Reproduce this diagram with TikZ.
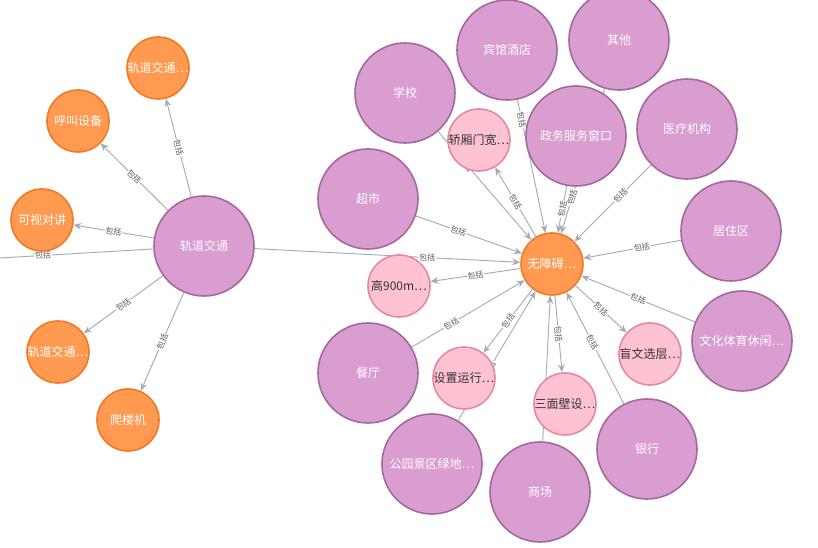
\documentclass[tikz,border=0pt]{standalone}
\usepackage{fontspec}
\setmainfont{Noto Sans CJK SC}
\usetikzlibrary{backgrounds,arrows.meta}
\definecolor{edgec}{HTML}{A5ABB6}
\definecolor{purf}{HTML}{D99DD0}
\definecolor{purd}{HTML}{A8679E}
\definecolor{orf}{HTML}{FF9A50}
\definecolor{ord}{HTML}{F07A26}
\definecolor{pkf}{HTML}{FFC2D2}
\definecolor{pkd}{HTML}{E6889E}
\tikzset{
 big/.style={circle,draw=purd,fill=purf,line width=1.2pt,minimum size=75pt,inner sep=0pt,text=white,font=\fontsize{9}{10}\selectfont},
 org/.style={circle,draw=ord,fill=orf,line width=1.2pt,minimum size=46.5pt,inner sep=0pt,text=white,font=\fontsize{9}{10}\selectfont},
 pnk/.style={circle,draw=pkd,fill=pkf,line width=1.2pt,minimum size=46.5pt,inner sep=0pt,text=black!80,font=\fontsize{9}{10}\selectfont},
 rel/.style={draw=edgec,line width=0.7pt,-{Stealth[length=6pt,width=5pt]}},
 lab/.style={sloped,fill=white,inner sep=0.5pt,text=black!65,font=\fontsize{6}{7}\selectfont}
}
\begin{document}
\begin{tikzpicture}[x=0.75pt,y=-0.75pt]
\useasboundingbox (0,0) rectangle (818,548);
% left cluster
\node[big] (gd) at (204,246) {轨道交通};
\node[org] (o1) at (158,68) {轨道交通…};
\node[org] (o2) at (78,121) {呼叫设备};
\node[org] (o3) at (42,220) {可视对讲};
\node[org] (o4) at (58,352) {轨道交通…};
\node[org] (o5) at (128,420) {爬楼机};
\coordinate (off) at (0,258);
% center
\node[org] (c) at (552,264) {无障碍…};
\node[big] (xx) at (405,93) {学校};
\node[big] (bg) at (507,50) {宾馆酒店};
\node[big] (qt) at (619,40) {其他};
\node[big] (zw) at (576,136) {政务服务窗口};
\node[big] (yl) at (687,129) {医疗机构};
\node[big] (jz) at (731,231) {居住区};
\node[big] (cs) at (368,199) {超市};
\node[big] (wh) at (742,341) {文化体育休闲…};
\node[big] (ct) at (368,373) {餐厅};
\node[big] (gy) at (432,464) {公园景区绿地…};
\node[big] (sc) at (540,492) {商场};
\node[big] (yh) at (647,449) {银行};
\node[pnk] (p1) at (479,140) {轿厢门宽…};
\node[pnk] (p2) at (399,286) {高900m…};
\node[pnk] (p3) at (464,378) {设置运行…};
\node[pnk] (p4) at (565,404) {三面壁设…};
\node[pnk] (p5) at (650,354) {盲文选层…};
\begin{pgfonlayer}{background}
\foreach \t in {o1,o2,o3,o4,o5}{\draw[rel] (gd) -- (\t) node[lab,midway]{包括};}
\draw[draw=edgec,line width=0.7pt] (gd) -- (off) node[lab,pos=0.72]{包括};
\draw[rel] (gd) -- (c) node[lab,pos=0.65]{包括};
\draw[rel] (xx) -- (c) node[lab,pos=0.3]{包括};
\draw[rel] (bg) -- (c) node[lab,pos=0.15]{包括};
\draw[rel] (qt) -- (c) node[lab,pos=0.75]{包括};
\draw[rel] (zw) -- (c) node[lab,pos=0.5]{包括};
\draw[rel] (yl) -- (c) node[lab,pos=0.4]{包括};
\draw[rel] (jz) -- (c) node[lab,pos=0.4]{包括};
\draw[rel] (cs) -- (c) node[lab,pos=0.4]{包括};
\draw[rel] (wh) -- (c) node[lab,pos=0.5]{包括};
\draw[rel] (ct) -- (c) node[lab,pos=0.35]{包括};
\draw[rel] (gy) -- (c) node[lab,pos=0.4]{包括};
\draw[rel] (sc) -- (c) node[lab,pos=0.25]{包括};
\draw[rel] (yh) -- (c) node[lab,pos=0.55]{包括};
\foreach \t in {p1,p2,p3,p4,p5}{\draw[rel] (c) -- (\t) node[lab,pos=0.5]{包括};}
\end{pgfonlayer}
\end{tikzpicture}
\end{document}
